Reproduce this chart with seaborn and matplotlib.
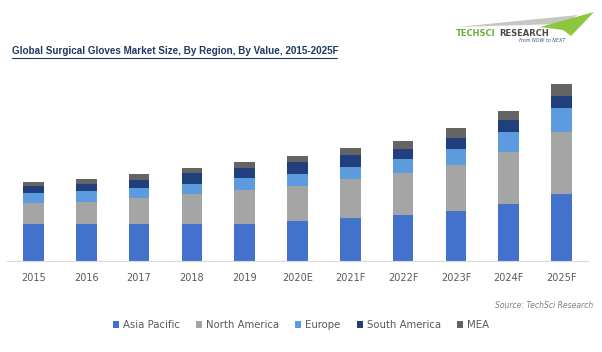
import matplotlib
matplotlib.use("Agg")
import matplotlib.pyplot as plt
import seaborn as sns
import pandas as pd
import numpy as np
from matplotlib.patches import Polygon, Patch
from matplotlib.lines import Line2D

years = ["2015", "2016", "2017", "2018", "2019", "2020E", "2021F", "2022F", "2023F", "2024F", "2025F"]
asia_pacific = [36.7, 36.7, 36.7, 36.7, 36.7, 39.7, 43.0, 45.7, 49.7, 56.3, 66.3]
north_america = [20.7, 22.3, 25.7, 29.7, 34.0, 35.3, 38.3, 41.7, 45.7, 52.7, 62.7]
europe = [10.6, 11.0, 10.0, 10.0, 11.7, 11.3, 12.7, 14.0, 16.7, 20.0, 23.3]
south_america = [7.0, 7.0, 8.3, 11.0, 10.7, 12.7, 11.7, 10.0, 10.3, 11.7, 12.7]
mea = [4.0, 5.0, 5.7, 5.0, 5.3, 6.0, 6.7, 8.7, 10.0, 9.3, 11.7]

regions = ["Asia Pacific", "North America", "Europe", "South America", "MEA"]
colors = ["#4372CC", "#A5A5A5", "#5B9BDE", "#223F7D", "#646464"]

df = pd.DataFrame({"Year": years, "Asia Pacific": asia_pacific, "North America": north_america,
                   "Europe": europe, "South America": south_america, "MEA": mea})
cum = df[regions].cumsum(axis=1)

W, H = 602, 352
fig = plt.figure(figsize=(W / 100, H / 100), dpi=100)
sns.set_style("white")
plt.rcParams['font.family'] = ['DejaVu Sans']

base_y = 260.7
top_y = 70
ax = fig.add_axes([7 / W, 1 - base_y / H, (588 - 7) / W, (base_y - top_y) / H])

for reg, col in reversed(list(zip(regions, colors))):
    sns.barplot(x=df["Year"], y=cum[reg], color=col, width=0.39, ax=ax,
                saturation=1, edgecolor="none", linewidth=0)

ax.set_xlim(-0.5, len(years) - 0.5)
ax.set_ylim(0, base_y - top_y)
ax.set_xlabel("")
ax.set_ylabel("")
ax.set_yticks([])
for s in ["top", "right", "left"]:
    ax.spines[s].set_visible(False)
ax.spines["bottom"].set_color("#D9D9D9")
ax.spines["bottom"].set_linewidth(0.8)
ax.tick_params(axis="x", length=0, pad=8.5, labelsize=7, labelcolor="#595959")

# Title with underline
title_color = "#1F3864"
fig.text(12 / W, 1 - 51 / H, "Global Surgical Gloves Market Size, By Region, By Value, 2015-2025F",
         fontsize=7.1, fontweight="bold", color=title_color, va="center", ha="left",
         family=["Liberation Sans", "DejaVu Sans"])
fig.add_artist(Line2D([12 / W, 337 / W], [1 - 58 / H, 1 - 58 / H], color=title_color, lw=0.8))

# Logo
def fp(x, y):
    return (x / W, 1 - y / H)
fig.add_artist(Polygon([fp(457, 27), fp(578, 15), fp(562, 24)], closed=True,
                       facecolor="#C4C8C4", edgecolor="none", transform=fig.transFigure))
fig.add_artist(Polygon([fp(540, 27), fp(594, 12), fp(571, 36), fp(563, 30)], closed=True,
                       facecolor="#8DC63F", edgecolor="none", transform=fig.transFigure))
fig.text(456 / W, 1 - 33 / H, "TECHSCI", fontsize=6.0, fontweight="bold", color="#6AAF3D",
         va="center", ha="left")
fig.text(499 / W, 1 - 33 / H, "RESEARCH", fontsize=6.0, fontweight="bold", color="#4A4A4A",
         va="center", ha="left")
fig.text(565 / W, 1 - 40 / H, "from NOW to NEXT", fontsize=3.5, style="italic", color="#3A5A8C",
         va="center", ha="right")

# Source
fig.text(593 / W, 1 - 306 / H, "Source: TechSci Research", fontsize=5.5, style="italic",
         color="#7F7F7F", va="center", ha="right")

# Legend
handles = [Patch(facecolor=c, edgecolor="none") for c in colors]
leg = fig.legend(handles, regions, loc="center", bbox_to_anchor=(301 / W, 1 - 325 / H), ncol=5,
                 frameon=False, fontsize=7.3, handlelength=0.6, handleheight=0.6,
                 handletextpad=0.4, columnspacing=1.6)
for txt in leg.get_texts():
    txt.set_color("#595959")

fig.savefig("out.png", dpi=100)
